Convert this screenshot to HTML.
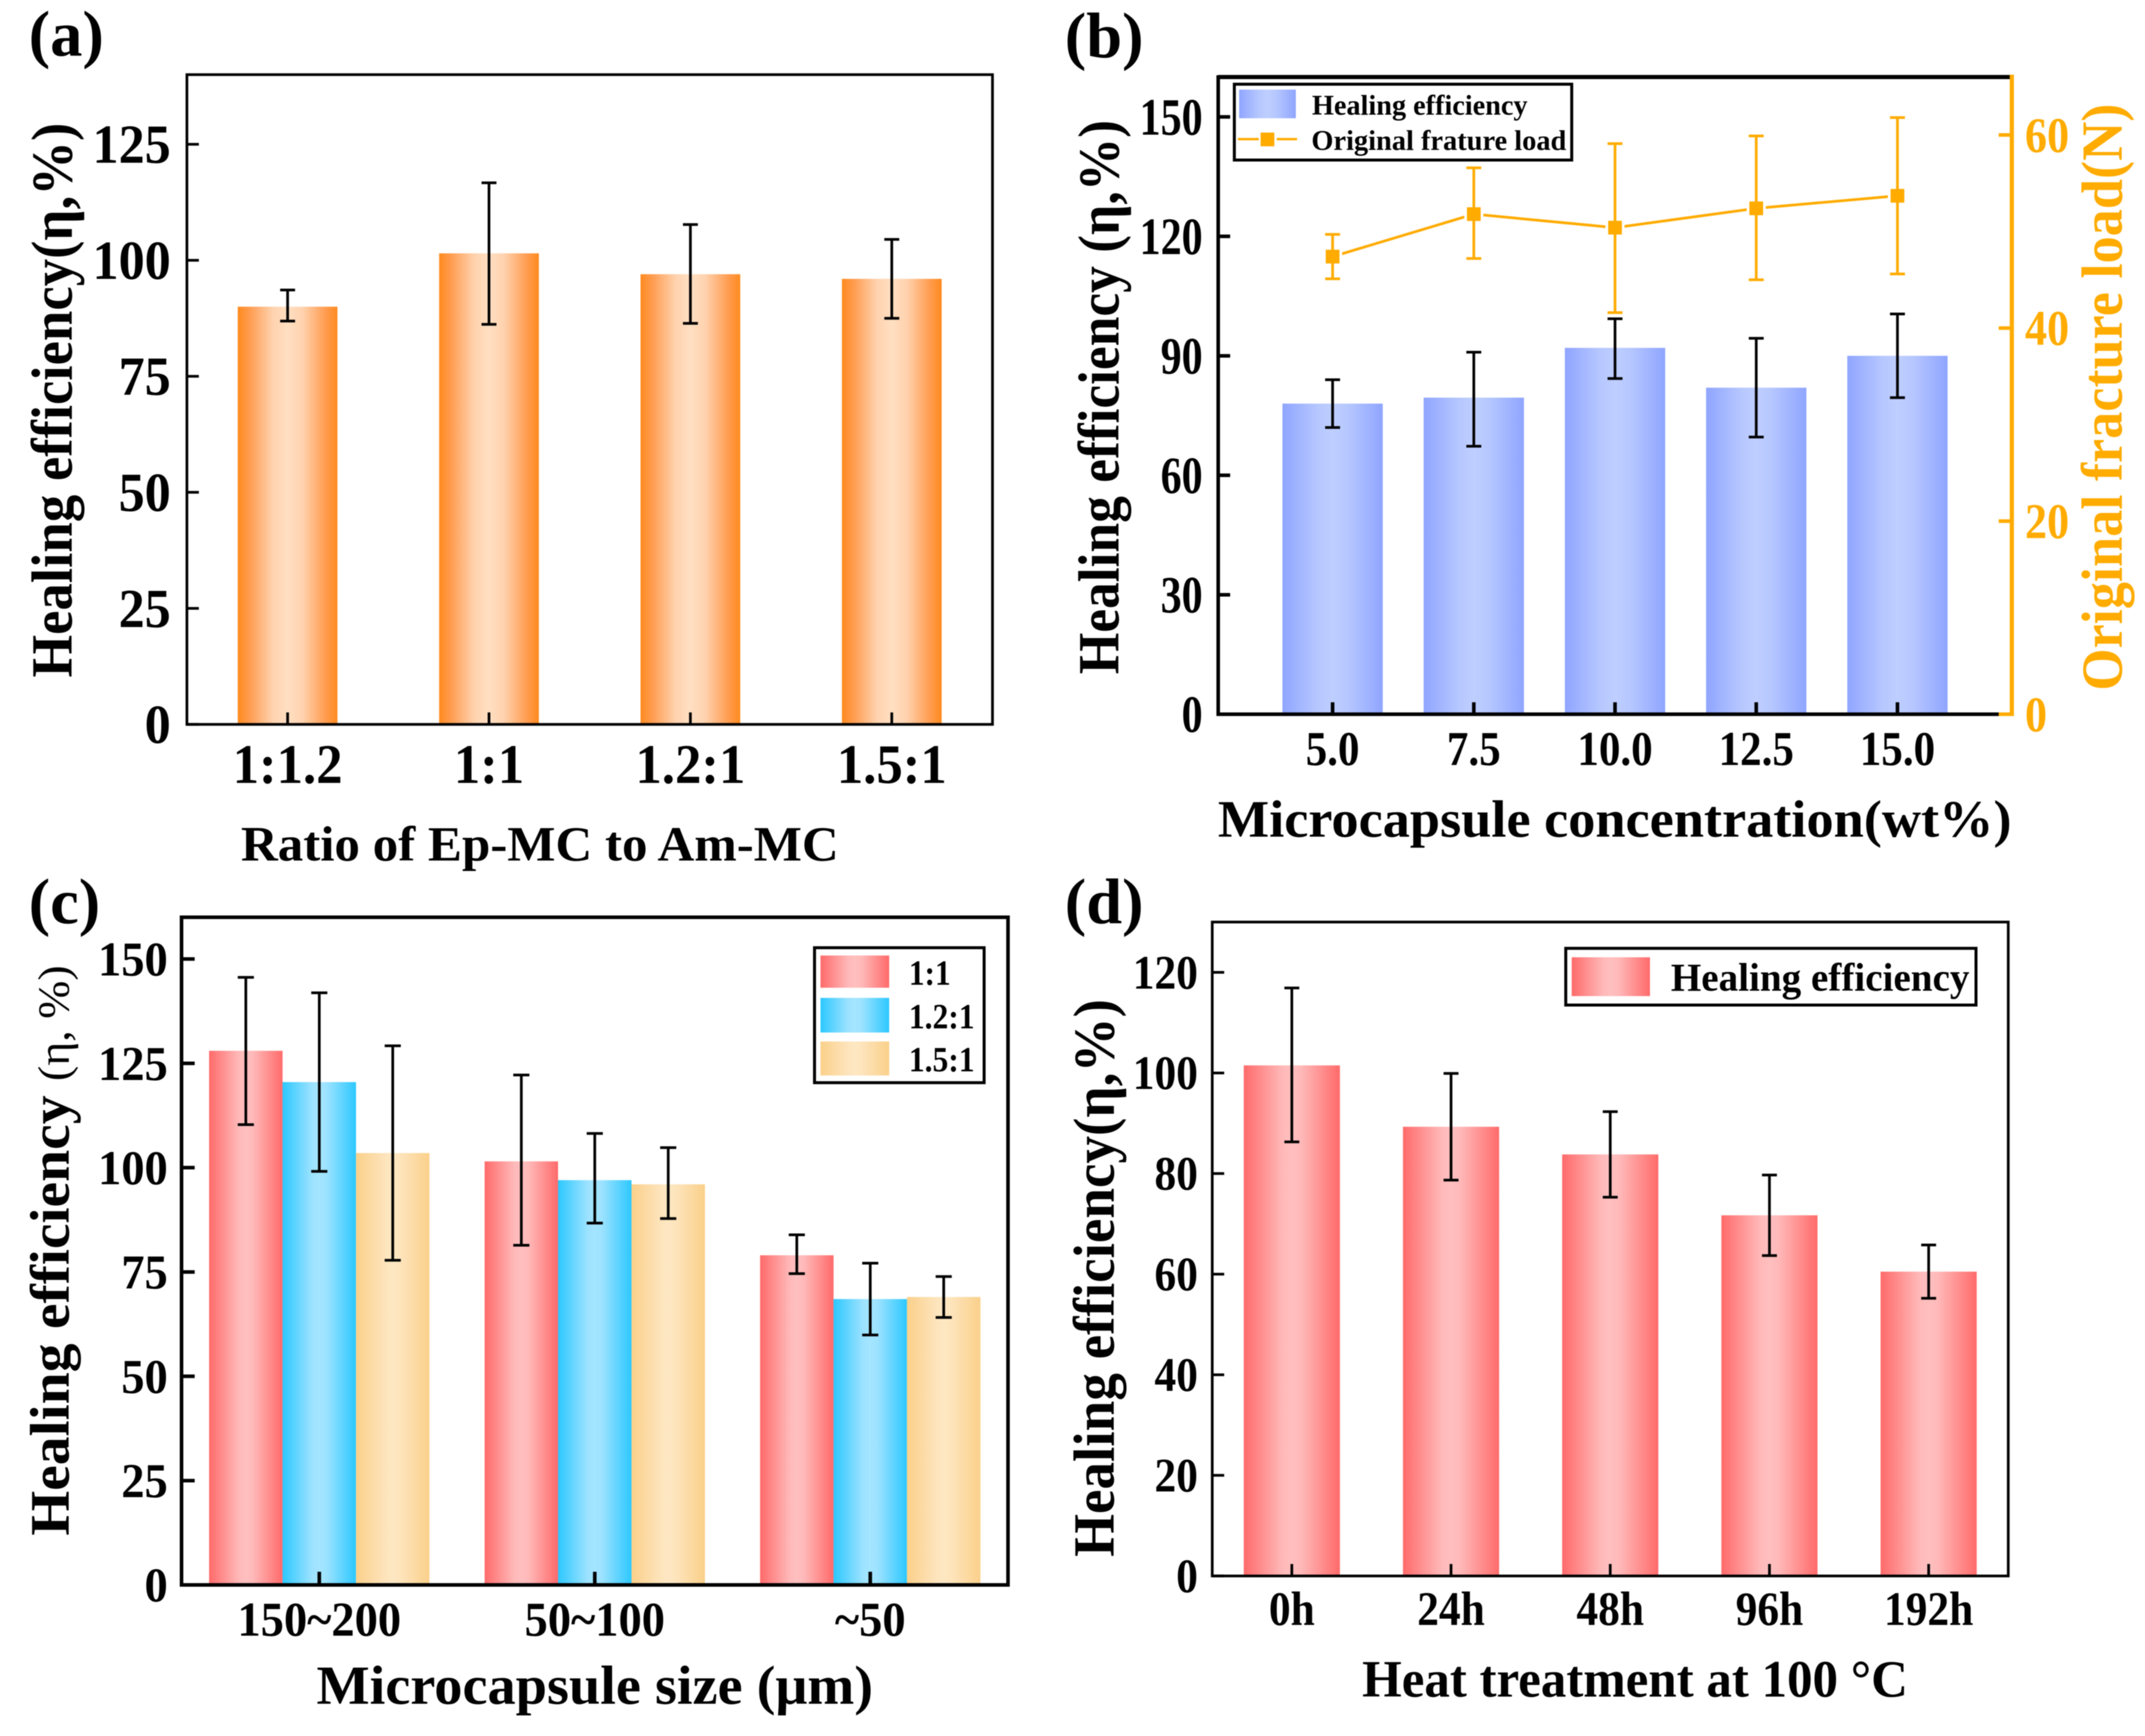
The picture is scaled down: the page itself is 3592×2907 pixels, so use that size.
<!DOCTYPE html>
<html>
<head>
<meta charset="utf-8">
<title>Healing efficiency charts</title>
<style>
html,body{margin:0;padding:0;background:#fff;}
svg{display:block;filter:blur(0.7px);}
text{font-family:"Liberation Serif","DejaVu Serif",serif;font-weight:bold;fill:#000;}
</style>
</head>
<body>
<svg id="fig" xmlns="http://www.w3.org/2000/svg" width="3592" height="2907" viewBox="0 0 3592 2907">
<defs>
<linearGradient id="gOrange"><stop offset="0" stop-color="#FF8A1E"/><stop offset="0.12" stop-color="#FF9C50"/><stop offset="0.35" stop-color="#FFD2AE"/><stop offset="0.5" stop-color="#FFDFC2"/><stop offset="0.65" stop-color="#FFD2AE"/><stop offset="0.88" stop-color="#FF9C50"/><stop offset="1" stop-color="#FF8A1E"/></linearGradient>
<linearGradient id="gPeri"><stop offset="0" stop-color="#8FA5FF"/><stop offset="0.35" stop-color="#B6C7FF"/><stop offset="0.5" stop-color="#BECEFF"/><stop offset="0.65" stop-color="#B6C7FF"/><stop offset="1" stop-color="#8FA5FF"/></linearGradient>
<linearGradient id="gRed"><stop offset="0" stop-color="#FF6A6A"/><stop offset="0.4" stop-color="#FFB8B8"/><stop offset="0.5" stop-color="#FFBFBF"/><stop offset="0.6" stop-color="#FFB8B8"/><stop offset="1" stop-color="#FF6A6A"/></linearGradient>
<linearGradient id="gBlue"><stop offset="0" stop-color="#2CC8FF"/><stop offset="0.4" stop-color="#9CE2FF"/><stop offset="0.5" stop-color="#A4E5FF"/><stop offset="0.6" stop-color="#9CE2FF"/><stop offset="1" stop-color="#2CC8FF"/></linearGradient>
<linearGradient id="gTan"><stop offset="0" stop-color="#FAD08A"/><stop offset="0.4" stop-color="#FDE4BC"/><stop offset="0.5" stop-color="#FDE7C2"/><stop offset="0.6" stop-color="#FDE4BC"/><stop offset="1" stop-color="#FAD08A"/></linearGradient>
</defs>

<text x="48" y="93" font-size="108">(a)</text>
<text x="1783" y="96" font-size="108">(b)</text>
<text x="48" y="1546" font-size="108">(c)</text>
<text x="1783" y="1546" font-size="108">(d)</text>

<text transform="translate(120,670) rotate(-90)" text-anchor="middle" font-size="97" textLength="929" lengthAdjust="spacingAndGlyphs">Healing efficiency(η,%)</text>
<text x="904" y="1441" text-anchor="middle" font-size="83" textLength="1001" lengthAdjust="spacingAndGlyphs">Ratio of Ep-MC to Am-MC</text>

<text transform="translate(1873,665) rotate(-90)" text-anchor="middle" font-size="97" textLength="928" lengthAdjust="spacingAndGlyphs">Healing efficiency (η,%)</text>
<text x="2704" y="1401" text-anchor="middle" font-size="88" textLength="1329" lengthAdjust="spacingAndGlyphs">Microcapsule concentration(wt%)</text>
<text transform="translate(3553,665) rotate(-90)" text-anchor="middle" font-size="98" textLength="983" lengthAdjust="spacingAndGlyphs" style="fill:#FFAB00">Original fracture load(N)</text>

<text transform="translate(115,2094) rotate(-90)" text-anchor="middle" font-size="93" textLength="955" lengthAdjust="spacingAndGlyphs">Healing efficiency <tspan font-size="74" style="font-weight:normal">(η, %)</tspan></text>
<text x="996" y="2853" text-anchor="middle" font-size="92" textLength="932" lengthAdjust="spacingAndGlyphs">Microcapsule size (μm)</text>

<text transform="translate(1865,2140) rotate(-90)" text-anchor="middle" font-size="97" textLength="934" lengthAdjust="spacingAndGlyphs">Healing efficiency(η,%)</text>
<text x="2738" y="2841" text-anchor="middle" font-size="88" textLength="914" lengthAdjust="spacingAndGlyphs">Heat treatment at 100 °C</text>

<g id="marks"></g>

<g>
<rect x="2067" y="141" width="565" height="127" fill="#fff" stroke="#000" stroke-width="5"/>
<rect x="2075" y="150" width="95" height="48" fill="url(#gPeri)"/>
<line x1="2073" x2="2108" y1="233" y2="233" stroke="#FFAB00" stroke-width="4"/>
<line x1="2138" x2="2172" y1="233" y2="233" stroke="#FFAB00" stroke-width="4"/>
<rect x="2111" y="222" width="23" height="23" fill="#FFAB00"/>
<text x="2197" y="192" font-size="48" textLength="361" lengthAdjust="spacingAndGlyphs">Healing efficiency</text>
<text x="2196" y="251" font-size="48" textLength="427" lengthAdjust="spacingAndGlyphs">Original frature load</text>
</g>

<g>
<rect x="1364" y="1587" width="284" height="226" fill="#fff" stroke="#000" stroke-width="5"/>
<rect x="1374" y="1600" width="115" height="54" fill="url(#gRed)"/>
<rect x="1374" y="1671" width="115" height="58" fill="url(#gBlue)"/>
<rect x="1374" y="1744" width="115" height="57" fill="url(#gTan)"/>
<text x="1522" y="1649" font-size="59" textLength="70" lengthAdjust="spacingAndGlyphs">1:1</text>
<text x="1522" y="1722" font-size="59" textLength="110" lengthAdjust="spacingAndGlyphs">1.2:1</text>
<text x="1522" y="1794" font-size="59" textLength="110" lengthAdjust="spacingAndGlyphs">1.5:1</text>
</g>

<g>
<rect x="2622" y="1588" width="687" height="95" fill="#fff" stroke="#000" stroke-width="5"/>
<rect x="2632" y="1603" width="131" height="65" fill="url(#gRed)"/>
<text x="2798" y="1659" font-size="67" textLength="500" lengthAdjust="spacingAndGlyphs">Healing efficiency</text>
</g>
</svg>

<script>
// Panel (a)
const aCategories = ["1:1.2", "1:1", "1.2:1", "1.5:1"];
const aYTicks = [0, 25, 50, 75, 100, 125];
const aValues = [90, 101.5, 97, 96];
const aErrHigh = [93.6, 116.7, 107.7, 104.5];
const aErrLow = [86.9, 86.2, 86.4, 87.5];

// Panel (b)
const bCategories = ["5.0", "7.5", "10.0", "12.5", "15.0"];
const bYTicks = [0, 30, 60, 90, 120, 150];
const bRightTicks = [0, 20, 40, 60];
const bValues = [78, 79.5, 92, 82, 90];
const bErrHigh = [84, 90.9, 99.3, 94.4, 100.5];
const bErrLow = [72, 67.3, 84.3, 69.6, 79.5];
const bLoad = [47.4, 51.8, 50.4, 52.4, 53.7];
const bLoadHigh = [49.7, 56.6, 59.1, 59.9, 61.8];
const bLoadLow = [45.1, 47.2, 41.6, 45, 45.6];

// Panel (c)
const cCategories = ["150~200", "50~100", "~50"];
const cYTicks = [0, 25, 50, 75, 100, 125, 150];
const cSeries11 = [128, 101.5, 79];
const cSeries121 = [120.5, 97, 68.5];
const cSeries151 = [103.5, 96, 69];
const cErrHigh11 = [145.6, 122.2, 83.9];
const cErrLow11 = [110.3, 81.4, 74.6];
const cErrHigh121 = [141.9, 108.2, 77.1];
const cErrLow121 = [99.1, 86.7, 59.9];
const cErrHigh151 = [129.2, 104.8, 73.9];
const cErrLow151 = [77.8, 87.8, 64.1];

// Panel (d)
const dCategories = ["0h", "24h", "48h", "96h", "192h"];
const dYTicks = [0, 20, 40, 60, 80, 100, 120];
const dValues = [101.5, 89.3, 83.8, 71.7, 60.5];
const dErrHigh = [116.9, 99.9, 92.3, 79.7, 65.8];
const dErrLow = [86.3, 78.7, 75.3, 63.7, 55.2];

const NS = "http://www.w3.org/2000/svg";
const marks = document.getElementById("marks");
const ORANGE = "#FFAB00";

function make(tag, attrs) {
  const el = document.createElementNS(NS, tag);
  for (const k in attrs) el.setAttribute(k, attrs[k]);
  marks.appendChild(el);
  return el;
}
function yScale(p, v, max) {
  return p.bottom - v / (max === undefined ? p.max : max) * (p.bottom - p.top);
}
function xScale(p, i, n) {
  return p.left + (i + p.pad) * (p.right - p.left) / (n - 1 + 2 * p.pad);
}
function label(x, y, s, size, anchor, sx, fill) {
  const el = make("text", {
    transform: "translate(" + x + "," + y + ") scale(" + sx + ",1)",
    "text-anchor": anchor,
    "font-size": size
  });
  if (fill) el.style.fill = fill;
  el.textContent = s;
  return el;
}
function bar(p, cx, w, v, fill) {
  const y = yScale(p, v);
  const el = make("rect", { x: cx - w / 2, y: y, width: w, height: p.bottom - y, fill: fill });
  
  
}
function errorBar(p, cx, hi, lo, color, max, cap) {
  const yh = yScale(p, hi, max), yl = yScale(p, lo, max);
  const stem = make("line", { x1: cx, x2: cx, y1: yh, y2: yl, stroke: color, "stroke-width": 4.5 });
  
  
  const top = make("line", { x1: cx - cap / 2, x2: cx + cap / 2, y1: yh, y2: yh, stroke: color, "stroke-width": 4.5 });
  
  
  const bottom = make("line", { x1: cx - cap / 2, x2: cx + cap / 2, y1: yl, y2: yl, stroke: color, "stroke-width": 4.5 });
  
  
}
function axes(p, cats, yTicks, opt) {
  // x ticks and labels
  cats.forEach(function (c, i) {
    const x = xScale(p, i, cats.length);
    const t = make("line", { x1: x, x2: x, y1: p.bottom, y2: p.bottom - p.tick, stroke: "#000", "stroke-width": p.lw });
    
    
    const l = label(x, opt.xBase, c, opt.xSize, "middle", opt.xSx);
    
    
  });
  // y ticks and labels
  yTicks.forEach(function (v) {
    const y = yScale(p, v);
    const t = make("line", { x1: p.left, x2: p.left + p.tick, y1: y, y2: y, stroke: "#000", "stroke-width": p.lw });
    
    
    const l = label(opt.yRight, y + opt.ySize * 0.338, String(v), opt.ySize, "end", opt.ySx);
    
    
  });
}
function frame(p) {
  const r = make("rect", { x: p.left, y: p.top, width: p.right - p.left, height: p.bottom - p.top, fill: "none", stroke: "#000", "stroke-width": p.lw });
  
  
}

// ---------- (a)
const pA = { left: 313, right: 1662, top: 125, bottom: 1213, max: 140, pad: 0.5, lw: 4.5, tick: 20 };
aValues.forEach(function (v, i) {
  bar(pA, xScale(pA, i, aValues.length), 167, v, "url(#gOrange)");
});
axes(pA, aCategories, aYTicks, { xBase: 1311, xSize: 93, xSx: 0.95, yRight: 286, ySize: 92, ySx: 0.95 });
aValues.forEach(function (v, i) {
  errorBar(pA, xScale(pA, i, aValues.length), aErrHigh[i], aErrLow[i], "#000", undefined, 25);
});
frame(pA);

// ---------- (b)
const pB = { left: 2040, right: 3369, top: 129, bottom: 1196, max: 160, pad: 0.81, lw: 6, tick: 20 };
const bRightMax = 66;
bValues.forEach(function (v, i) {
  bar(pB, xScale(pB, i, bValues.length), 168, v, "url(#gPeri)");
});
axes(pB, bCategories, bYTicks, { xBase: 1281, xSize: 82, xSx: 0.88, yRight: 2014, ySize: 88, ySx: 0.8 });
bValues.forEach(function (v, i) {
  errorBar(pB, xScale(pB, i, bValues.length), bErrHigh[i], bErrLow[i], "#000", undefined, 25);
});
const bLeftAxis = make("line", { x1: pB.left, x2: pB.left, y1: pB.top - 3, y2: pB.bottom + 3, stroke: "#000", "stroke-width": pB.lw });


const bTopAxis = make("line", { x1: pB.left, x2: pB.right - 3, y1: pB.top, y2: pB.top, stroke: "#000", "stroke-width": 7 });


const bBottomAxis = make("line", { x1: pB.left, x2: pB.right - 22, y1: pB.bottom, y2: pB.bottom, stroke: "#000", "stroke-width": pB.lw });


const bRightAxis = make("line", { x1: pB.right, x2: pB.right, y1: pB.top - 4, y2: pB.bottom + 3, stroke: ORANGE, "stroke-width": 7 });


bRightTicks.forEach(function (v) {
  const y = yScale(pB, v, bRightMax);
  const t = make("line", { x1: pB.right - 22, x2: pB.right, y1: y, y2: y, stroke: ORANGE, "stroke-width": 6 });
  
  
  const l = label(3391, y + 84 * 0.338, String(v), 84, "start", 0.88, ORANGE);
  
  
});
const bLinePts = bLoad.map(function (v, i) {
  return xScale(pB, i, bLoad.length) + "," + yScale(pB, v, bRightMax);
}).join(" ");
const bLine = make("polyline", { points: bLinePts, fill: "none", stroke: ORANGE, "stroke-width": 4.5 });


bLoad.forEach(function (v, i) {
  const x = xScale(pB, i, bLoad.length), y = yScale(pB, v, bRightMax);
  const gap = make("rect", { x: x - 16, y: y - 16, width: 32, height: 32, fill: "#fff" });
  
  
  errorBar(pB, x, bLoadHigh[i], bLoadLow[i], ORANGE, bRightMax, 25);
  const m = make("rect", { x: x - 11.5, y: y - 11.5, width: 23, height: 23, fill: ORANGE });
  
  
});

// ---------- (c)
const pC = { left: 304, right: 1688, top: 1536, bottom: 2654, max: 160, pad: 0.5, lw: 6, tick: 22 };
const cBarW = 123;
const cFills = ["url(#gRed)", "url(#gBlue)", "url(#gTan)"];
const cAll = [cSeries11, cSeries121, cSeries151];
const cHigh = [cErrHigh11, cErrHigh121, cErrHigh151];
const cLow = [cErrLow11, cErrLow121, cErrLow151];
cCategories.forEach(function (c, i) {
  const gx = xScale(pC, i, cCategories.length);
  cAll.forEach(function (vals, s) {
    bar(pC, gx + (s - 1) * cBarW, cBarW, vals[i], cFills[s]);
  });
});
axes(pC, cCategories, cYTicks, { xBase: 2739, xSize: 82, xSx: 0.95, yRight: 281, ySize: 82, ySx: 0.95 });
cCategories.forEach(function (c, i) {
  const gx = xScale(pC, i, cCategories.length);
  cAll.forEach(function (vals, s) {
    errorBar(pC, gx + (s - 1) * cBarW, cHigh[s][i], cLow[s][i], "#000", undefined, 27);
  });
});
frame(pC);

// ---------- (d)
const pD = { left: 2030, right: 3363, top: 1544, bottom: 2639, max: 130, pad: 0.5, lw: 4.5, tick: 20 };
dValues.forEach(function (v, i) {
  bar(pD, xScale(pD, i, dValues.length), 161, v, "url(#gRed)");
});
axes(pD, dCategories, dYTicks, { xBase: 2721, xSize: 80, xSx: 0.91, yRight: 2006, ySize: 80, ySx: 0.91 });
dValues.forEach(function (v, i) {
  errorBar(pD, xScale(pD, i, dValues.length), dErrHigh[i], dErrLow[i], "#000", undefined, 25);
});
frame(pD);
</script>
</body>
</html>
